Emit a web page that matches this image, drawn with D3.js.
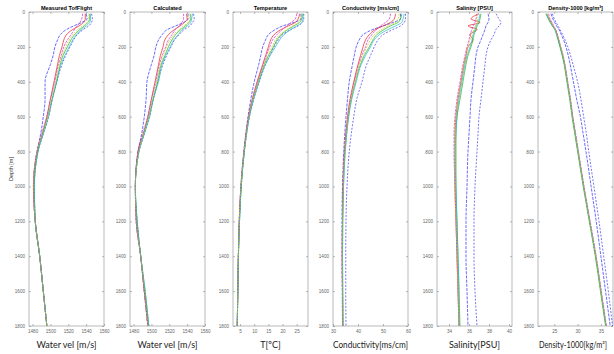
<!DOCTYPE html>
<html>
<head>
<meta charset="utf-8">
<script src="https://cdn.jsdelivr.net/npm/d3@7"></script>
<style>
  body { margin: 0; background: #fff; }
  svg { display: block; }
</style>
</head>
<body>
<svg id="chart" width="614" height="354"></svg>
<script>
// depth levels [m] shared by every profile
const depths = [10, 40, 60, 80, 100, 130, 160, 200, 250, 300, 400, 500, 600, 700, 800, 1000, 1200, 1400, 1600, 1800];

// one colour per cast (matlab-ish)
const castColors = ["#2a2aff", "#3a3aee", "#e81c1c", "#22b522", "#d22ed2", "#28b8c8", "#c8c82a"];
const castDash = ["3,1.2", "2,1.5", null, null, "2.5,1", null, "2,1"];

const velMeasured = [
  [1540, 1541, 1535, 1526, 1518, 1511, 1508, 1505, 1503, 1500, 1494, 1494, 1492, 1489, 1485, 1481, 1483, 1488, 1492, 1496],
  [1546, 1547, 1546, 1543, 1537, 1530, 1526, 1522, 1517, 1513, 1507, 1502, 1498, 1492, 1486, 1482, 1483, 1488, 1492, 1496],
  [1539, 1539, 1537, 1532, 1525, 1518, 1515, 1513, 1510, 1508, 1504, 1500, 1496, 1491, 1485, 1481, 1483, 1488, 1492, 1496],
  [1544, 1544, 1542, 1538, 1533, 1527, 1523, 1519, 1514, 1511, 1507, 1502, 1497, 1491, 1486, 1482, 1483, 1488, 1492, 1496],
  [1536, 1535, 1533, 1530, 1527, 1523, 1519, 1515, 1512, 1509, 1505, 1500, 1496, 1490, 1485, 1481, 1483, 1488, 1492, 1496],
  [1545, 1545, 1544, 1540, 1535, 1529, 1525, 1521, 1516, 1512, 1507, 1502, 1498, 1492, 1486, 1482, 1483, 1488, 1492, 1496],
  [1543, 1543, 1540, 1536, 1531, 1525, 1521, 1517, 1513, 1510, 1506, 1501, 1497, 1491, 1485, 1481, 1483, 1488, 1492, 1496]
];

const velCalculated = [
  [1541, 1541, 1536, 1527, 1518, 1512, 1508, 1505, 1503, 1500, 1495, 1494, 1492, 1489, 1485, 1482, 1483, 1488, 1492, 1496],
  [1547, 1548, 1546, 1543, 1537, 1531, 1526, 1522, 1517, 1513, 1507, 1502, 1498, 1492, 1486, 1482, 1484, 1488, 1492, 1497],
  [1539, 1540, 1537, 1532, 1526, 1519, 1515, 1513, 1510, 1508, 1504, 1500, 1496, 1491, 1485, 1482, 1483, 1488, 1492, 1496],
  [1544, 1544, 1542, 1538, 1533, 1527, 1523, 1519, 1515, 1511, 1507, 1502, 1497, 1491, 1486, 1482, 1484, 1488, 1493, 1497],
  [1536, 1536, 1534, 1531, 1527, 1523, 1519, 1516, 1512, 1509, 1505, 1500, 1496, 1490, 1485, 1482, 1483, 1488, 1492, 1496],
  [1546, 1545, 1544, 1540, 1535, 1530, 1525, 1521, 1516, 1512, 1508, 1502, 1498, 1492, 1486, 1482, 1484, 1488, 1493, 1497],
  [1543, 1543, 1541, 1536, 1531, 1525, 1521, 1517, 1513, 1510, 1506, 1501, 1497, 1491, 1486, 1482, 1483, 1488, 1492, 1496]
];

const temperature = [
  [26.5, 26.5, 24.0, 20.0, 17.5, 15.0, 14.0, 13.0, 12.3, 11.6, 10.0, 8.8, 7.8, 7.0, 6.3, 5.3, 4.7, 4.4, 4.2, 4.0],
  [27.5, 27.5, 27.0, 25.5, 23.0, 20.0, 18.5, 17.0, 15.5, 14.0, 11.8, 9.8, 8.3, 7.3, 6.5, 5.4, 4.8, 4.4, 4.2, 4.0],
  [26.0, 25.5, 24.5, 22.0, 19.5, 17.0, 15.8, 15.0, 14.0, 13.0, 11.0, 9.3, 8.0, 7.1, 6.4, 5.3, 4.7, 4.4, 4.2, 4.0],
  [27.0, 26.8, 26.0, 24.0, 22.0, 19.5, 18.0, 16.8, 15.0, 13.6, 11.5, 9.6, 8.2, 7.2, 6.5, 5.4, 4.8, 4.4, 4.2, 4.0],
  [25.0, 24.5, 23.0, 21.5, 20.0, 18.0, 16.5, 15.5, 14.3, 13.2, 11.2, 9.4, 8.1, 7.1, 6.4, 5.3, 4.7, 4.4, 4.2, 4.0],
  [27.3, 27.2, 26.8, 25.0, 23.0, 20.5, 19.0, 17.5, 15.6, 14.0, 11.7, 9.8, 8.3, 7.3, 6.5, 5.4, 4.8, 4.4, 4.2, 4.0],
  [26.8, 26.5, 25.5, 23.5, 21.5, 19.0, 17.5, 16.3, 14.8, 13.5, 11.4, 9.5, 8.1, 7.2, 6.4, 5.3, 4.7, 4.4, 4.2, 4.0]
];

const conductivity = [
  [57.0, 57.0, 54.0, 50.0, 46.0, 42.0, 40.5, 39.3, 38.5, 37.8, 36.5, 35.8, 35.2, 34.7, 34.3, 33.8, 33.6, 33.6, 33.7, 33.8],
  [59.0, 59.0, 58.5, 57.0, 54.0, 50.0, 48.0, 46.5, 45.0, 43.5, 41.6, 39.5, 38.3, 37.3, 36.5, 35.6, 35.2, 35.1, 35.1, 35.2],
  [55.0, 54.5, 53.0, 50.0, 47.0, 44.5, 43.0, 42.0, 41.0, 40.0, 38.3, 36.8, 35.8, 35.1, 34.6, 34.0, 33.8, 33.7, 33.8, 33.9],
  [57.5, 57.0, 56.0, 53.0, 50.5, 47.5, 46.0, 44.5, 42.5, 41.0, 39.0, 37.3, 36.2, 35.4, 34.8, 34.2, 33.9, 33.8, 33.9, 34.0],
  [53.0, 52.5, 51.0, 49.0, 47.5, 45.5, 44.0, 43.0, 41.5, 40.3, 38.5, 37.0, 36.0, 35.2, 34.6, 34.0, 33.8, 33.7, 33.8, 33.9],
  [58.5, 58.0, 57.5, 55.0, 52.0, 48.5, 46.5, 45.0, 43.0, 41.3, 39.3, 37.5, 36.3, 35.5, 34.9, 34.2, 33.9, 33.8, 33.9, 34.0],
  [56.5, 56.0, 55.0, 52.0, 49.5, 46.5, 45.0, 43.5, 42.0, 40.6, 38.8, 37.1, 36.1, 35.3, 34.7, 34.1, 33.8, 33.7, 33.8, 33.9]
];

const salinity = [
  [37.9, 38.0, 37.9, 37.7, 37.6, 37.4, 37.2, 36.9, 36.7, 36.6, 36.4, 36.2, 36.1, 36.0, 35.9, 35.8, 35.7, 35.7, 35.8, 35.9],
  [38.7, 39.0, 39.2, 39.0, 38.7, 38.5, 38.2, 37.9, 37.7, 37.6, 37.4, 37.2, 37.0, 36.9, 36.8, 36.6, 36.5, 36.5, 36.6, 36.8],
  [37.0, 36.2, 37.1, 35.9, 36.8, 36.1, 36.4, 35.9, 35.7, 35.5, 35.2, 34.9, 34.7, 34.6, 34.6, 34.6, 34.7, 34.8, 34.9, 35.0],
  [37.2, 37.1, 37.0, 36.8, 36.7, 36.5, 36.4, 36.2, 35.9, 35.7, 35.4, 35.1, 34.8, 34.7, 34.7, 34.7, 34.8, 34.9, 35.0, 35.1],
  [36.8, 36.7, 36.6, 36.4, 36.3, 36.1, 36.0, 35.8, 35.6, 35.4, 35.1, 34.8, 34.6, 34.5, 34.5, 34.6, 34.7, 34.8, 34.9, 35.0],
  [37.1, 37.0, 36.9, 36.7, 36.6, 36.4, 36.3, 36.1, 35.8, 35.6, 35.3, 35.0, 34.8, 34.7, 34.6, 34.7, 34.8, 34.9, 35.0, 35.0],
  [36.9, 36.8, 36.9, 36.6, 36.5, 36.2, 36.1, 35.9, 35.7, 35.5, 35.2, 34.9, 34.7, 34.6, 34.6, 34.6, 34.7, 34.8, 34.9, 35.0]
];

const density = [
  [24.3, 24.7, 25.1, 25.5, 26.0, 26.5, 27.0, 27.5, 28.0, 28.4, 29.1, 29.8, 30.6, 31.2, 31.8, 32.9, 34.0, 35.0, 36.0, 37.0],
  [24.6, 25.0, 25.4, 25.8, 26.2, 26.8, 27.3, 27.9, 28.5, 29.0, 30.0, 30.7, 31.3, 31.9, 32.4, 33.5, 34.6, 35.6, 36.6, 37.5],
  [23.4, 23.9, 24.3, 24.7, 25.2, 25.6, 25.9, 26.3, 26.8, 27.2, 27.8, 28.4, 28.9, 29.5, 30.1, 31.3, 32.6, 33.9, 35.0, 36.1],
  [23.2, 23.7, 24.1, 24.6, 25.1, 25.5, 25.8, 26.2, 26.7, 27.1, 27.7, 28.3, 28.8, 29.4, 30.0, 31.2, 32.5, 33.8, 34.9, 36.0],
  [23.8, 24.1, 24.5, 24.9, 25.3, 25.7, 26.0, 26.4, 26.9, 27.3, 27.9, 28.5, 29.0, 29.6, 30.2, 31.4, 32.7, 34.0, 35.1, 36.2],
  [23.3, 23.8, 24.2, 24.6, 25.1, 25.5, 25.9, 26.3, 26.8, 27.2, 27.8, 28.4, 28.9, 29.5, 30.1, 31.3, 32.6, 33.9, 35.0, 36.1],
  [23.5, 23.9, 24.3, 24.8, 25.2, 25.6, 26.0, 26.4, 26.9, 27.2, 27.8, 28.4, 28.9, 29.5, 30.1, 31.3, 32.6, 33.9, 35.0, 36.1]
];

const depthTicks = [0, 200, 400, 600, 800, 1000, 1200, 1400, 1600, 1800];

const panels = [
  { title: "Measured TofFlight", label: "Water vel [m/s]", data: velMeasured, domain: [1476, 1560], ticks: [1480, 1500, 1520, 1540, 1560] },
  { title: "Calculated", label: "Water vel [m/s]", data: velCalculated, domain: [1476, 1560], ticks: [1480, 1500, 1520, 1540, 1560] },
  { title: "Temperature", label: "T[\u00baC]", data: temperature, domain: [2.5, 29], ticks: [5, 10, 15, 20, 25] },
  { title: "Conductivity [ms/cm]", label: "Conductivity[ms/cm]", data: conductivity, domain: [30, 60], ticks: [30, 40, 50, 60] },
  { title: "Salinity [PSU]", label: "Salinity[PSU]", data: salinity, domain: [32.8, 40.3], ticks: [34, 36, 38, 40] },
  { title: "Density-1000 [kg/m\u00b3]", label: "Density-1000[kg/m\u00b3]", data: density, domain: [21.5, 37.6], ticks: [25, 30, 35] }
];

const lefts = [29, 130, 233, 333, 437, 538];
const pw = 75, plotTop = 12, plotBottom = 326;

const svg = d3.select("#chart");
const fmt = d3.format("d");

const y = d3.scaleLinear().domain([0, 1800]).range([plotTop, plotBottom]);

panels.forEach((p, i) => {
  const x = d3.scaleLinear().domain(p.domain).range([lefts[i], lefts[i] + pw]);
  const g = svg.append("g");
  const last = i === panels.length - 1;

  // box
  g.append("rect")
    .attr("x", lefts[i]).attr("y", plotTop)
    .attr("width", pw).attr("height", plotBottom - plotTop)
    .attr("fill", "none").attr("stroke", "#a8a8a8").attr("stroke-width", 0.8);

  // axes with inward ticks
  const styleAxis = sel => {
    sel.select(".domain").remove();
    sel.selectAll(".tick line").attr("stroke", "#888").attr("stroke-width", 0.6);
    sel.selectAll(".tick text").attr("fill", "#666").style("font-size", "4.6px")
      .style("font-family", "Liberation Sans, Arial, sans-serif");
  };
  g.append("g").attr("transform", `translate(0,${plotBottom})`)
    .call(d3.axisBottom(x).tickValues(p.ticks).tickFormat(fmt).tickSizeInner(-2).tickSizeOuter(0).tickPadding(3.5))
    .call(styleAxis);
  g.append("g").attr("transform", `translate(0,${plotTop})`)
    .call(d3.axisTop(x).tickValues(p.ticks).tickSizeInner(-2).tickSizeOuter(0).tickFormat(""))
    .call(styleAxis);
  g.append("g").attr("transform", `translate(${lefts[i]},0)`)
    .call(d3.axisLeft(y).tickValues(depthTicks).tickFormat(fmt).tickSizeInner(-2).tickSizeOuter(0).tickPadding(4))
    .call(styleAxis);
  g.append("g").attr("transform", `translate(${lefts[i] + pw},0)`)
    .call(d3.axisRight(y).tickValues(depthTicks).tickSizeInner(-2).tickSizeOuter(0).tickFormat(""))
    .call(styleAxis);

  // profiles
  const line = d3.line()
    .x(d => x(d[0]))
    .y(d => y(d[1]))
    .curve(d3.curveMonotoneY);

  p.data.forEach((vals, c) => {
    g.append("path")
      .attr("d", line(vals.map((v, k) => [v, depths[k]])))
      .attr("fill", "none")
      .attr("stroke", castColors[c])
      .attr("stroke-width", 0.7)
      .attr("stroke-dasharray", castDash[c]);
  });

  // title
  g.append("text")
    .attr("x", lefts[i] + pw / 2).attr("y", plotTop - 2)
    .attr("text-anchor", "middle")
    .style("font-family", "Liberation Sans, Arial, sans-serif")
    .style("font-size", "5.6px").style("font-weight", "bold")
    .text(p.title);

  // x label; the last one is squeezed so it stays inside the page
  const lab = g.append("text")
    .attr("x", lefts[i] + pw / 2 - (last ? 2.5 : 0)).attr("y", 348)
    .attr("text-anchor", "middle")
    .style("font-family", "Lato, sans-serif")
    .style("font-size", last ? "8.6px" : "9px").attr("fill", "#222")
    .text(p.label);
  if (last || lab.node().getComputedTextLength() > pw) {
    lab.attr("textLength", last ? 68 : pw).attr("lengthAdjust", "spacingAndGlyphs");
  }
});

svg.append("text")
  .attr("transform", `translate(13,${y(900)}) rotate(-90)`)
  .attr("text-anchor", "middle")
  .style("font-family", "Liberation Sans, Arial, sans-serif")
  .style("font-size", "5.5px").attr("fill", "#333")
  .text("Depth [m]");
</script>
</body>
</html>
